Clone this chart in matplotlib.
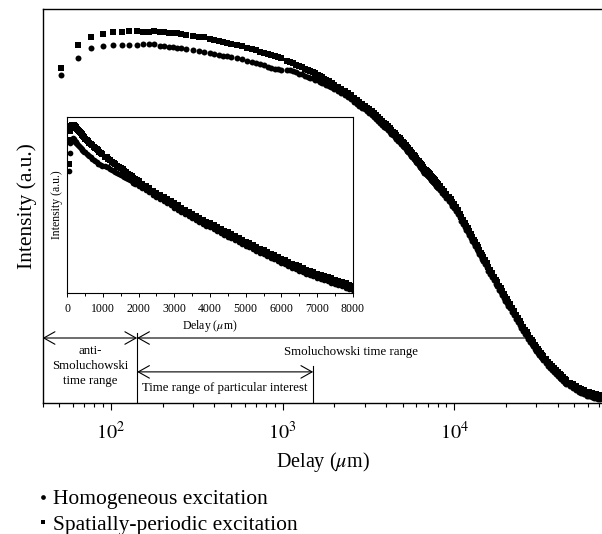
import matplotlib.pyplot as plt
from matplotlib.lines import Line2D
from matplotlib.ticker import MultipleLocator

plt.rcParams['font.family'] = 'serif'
plt.rcParams['font.serif'] = ['Liberation Serif', 'DejaVu Serif']
plt.rcParams['mathtext.fontset'] = 'stix'

# delay values shared by both excitation series
delay = [
    51.2, 64.0, 76.8, 89.6, 102.4, 115.2, 128.0, 140.8, 153.6, 166.4, 179.2, 192.0, 204.8, 217.6, 230.4, 243.2, 256.0,
    275, 300, 325, 350, 375, 400, 425, 450, 475, 500, 540, 580, 620, 660, 700, 740, 780, 820, 860, 900, 940, 980,
    1060, 1100, 1150, 1200, 1250, 1300, 1350, 1400, 1450, 1500, 1550, 1600, 1650, 1700, 1750, 1800, 1850, 1900, 1950, 2000,
    2100, 2200, 2300, 2400, 2500, 2600, 2700, 2800, 2900, 3000, 3100, 3200, 3300, 3400, 3500, 3600, 3700, 3800, 3900, 4000,
    4100, 4200, 4300, 4400, 4500, 4600, 4700, 4800, 4900, 5000, 5100, 5200, 5300, 5400, 5500, 5600, 5700, 5800, 5900, 6000,
    6100, 6200, 6300, 6400, 6500, 6600, 6700, 6800, 6900, 7000, 7100, 7200, 7300, 7400, 7500, 7600, 7700, 7800, 7900, 8000,
    8250, 8500, 8750, 9000, 9250, 9500, 9750, 10000,
    10250, 10500, 10750, 11000, 11250, 11500, 11750, 12000, 12250, 12500, 12750, 13000, 13250, 13500, 13750, 14000,
    14250, 14500, 14750, 15000,
    15400, 15800, 16200, 16600, 17000, 17400, 17800, 18200, 18600, 19000, 19400, 19800, 20200, 20600, 21000,
    21600, 22200, 22800, 23400, 24000, 24600, 25200, 25800, 26400, 27000, 27600, 28200, 28800, 29400, 30000,
    30600, 31200, 31800, 32400, 33000,
    34000, 35000, 36000, 37000, 38000, 39000, 40000, 41000, 42000, 43000, 44000, 45000,
    47000, 49000, 51000, 53000, 55000, 57000, 59000, 61000, 63000, 65000, 67000, 69000, 71000, 73000,
]

# spatially-periodic excitation (squares)
periodic = [
    .851, .909, .930, .937, .941, .942, .945, .944, .941, .942, .943, .942, .941, .940, .939, .938, .937,
    .935, .932, .930, .928, .925, .922, .920, .917, .914, .911, .908, .905, .901, .898, .895, .892, .889, .886, .883, .880, .877, .875,
    .868, .866, .862, .859, .856, .852, .849, .846, .842, .840, .837, .833, .830, .827, .823, .820, .817, .813, .811, .808,
    .803, .797, .792, .786, .781, .775, .770, .765, .760, .755, .750, .745, .740, .735, .730, .725, .720, .716, .711, .707,
    .703, .698, .694, .689, .685, .681, .676, .672, .668, .663, .659, .655, .650, .646, .642, .638, .634, .630, .626, .622,
    .618, .614, .610, .606, .603, .599, .595, .592, .589, .586, .583, .580, .577, .574, .571, .568, .565, .562, .559, .556,
    .550, .543, .537, .531, .524, .518, .511, .505,
    .497, .489, .481, .473, .465, .458, .450, .443, .436, .429, .422, .415, .408, .401, .395, .388,
    .382, .376, .370, .364,
    .355, .346, .338, .329, .321, .313, .306, .298, .291, .284, .277, .270, .264, .257, .251,
    .242, .233, .224, .216, .208, .200, .193, .186, .179, .172, .166, .160, .154, .148, .143,
    .138, .133, .128, .123, .119,
    .112, .105, .099, .093, .088, .083, .078, .074, .070, .066, .062, .058,
    .052, .047, .042, .038, .035, .032, .029, .027, .025, .023, .022, .021, .020, .019,
]

# homogeneous excitation (circles)
homogeneous = [
    .832, .876, .900, .907, .909, .909, .909, .909, .910, .912, .911, .906, .905, .904, .903, .902, .901,
    .898, .895, .893, .891, .888, .886, .884, .882, .880, .878, .875, .872, .869, .866, .863, .860, .857, .854, .851, .849, .847, .845,
    .846, .844, .842, .839, .836, .834, .831, .828, .826, .824, .821, .819, .816, .813, .811, .808, .805, .803, .801, .798,
    .793, .787, .782, .776, .771, .765, .760, .755, .750, .745, .740, .735, .730, .725, .720, .715, .710, .706, .701, .697,
    .693, .688, .684, .679, .675, .671, .666, .662, .658, .653, .649, .645, .640, .636, .632, .628, .624, .620, .616, .612,
    .608, .604, .600, .596, .593, .589, .585, .582, .579, .576, .573, .570, .567, .564, .561, .558, .555, .552, .549, .546,
    .540, .533, .527, .521, .514, .508, .501, .495,
    .487, .479, .471, .463, .455, .448, .440, .433, .426, .419, .412, .405, .398, .391, .385, .378,
    .372, .366, .360, .354,
    .345, .336, .328, .319, .311, .303, .296, .288, .281, .274, .267, .260, .254, .247, .241,
    .232, .223, .214, .206, .198, .190, .183, .176, .169, .162, .156, .150, .144, .138, .133,
    .128, .123, .118, .113, .109,
    .102, .095, .089, .083, .078, .073, .068, .064, .060, .056, .052, .048,
    .042, .037, .032, .028, .025, .022, .019, .017, .015, .013, .012, .011, .010, .009,
]

# range boundaries (delay)
x_left = 40
x_smol = 142
x_interest = 1506
x_smol_end = 26980

series_labels = ['Homogeneous excitation', 'Spatially-periodic excitation']

fig = plt.figure(figsize=(6.02, 5.34), dpi=100)

# main log-scale panel
ax = fig.add_axes([0.0709, 0.2453, 0.9300, 0.7378])
ax.plot(delay, periodic, 's', ms=4.0, mew=0, color='black')
ax.plot(delay, homogeneous, 'o', ms=4.3, mew=0, color='black')
ax.set_xscale('log')
ax.set_xlim(x_left, 73000)
ax.set_ylim(0, 1)
ax.set_yticks([])
ax.set_xticks([100, 1000, 10000])
ax.set_xticklabels([r'$10^2$', r'$10^3$', r'$10^4$'])
ax.tick_params(axis='x', which='major', direction='out', length=5, width=0.8, pad=9, labelsize=14.5)
ax.tick_params(axis='x', which='minor', direction='out', length=3, width=0.8)
ax.spines['right'].set_visible(False)
for s in ax.spines.values():
    s.set_linewidth(1.0)
ax.set_xlabel(r'Delay ($\mu$m)', fontsize=14.5, labelpad=4)
ax.set_ylabel('Intensity (a.u.)', fontsize=15.5)
ax.yaxis.set_label_coords(-0.011, 0.5)

# time-range markers along the bottom
trans = ax.get_xaxis_transform()
y_top = 0.165
y_low = 0.079
ax.plot([x_smol, x_smol], [0, 0.178], transform=trans, color='black', lw=0.8)
ax.plot([x_interest, x_interest], [0, 0.094], transform=trans, color='black', lw=0.8)

both = dict(arrowstyle='<->,head_length=0.8,head_width=0.45', lw=0.8, color='black',
            shrinkA=0, shrinkB=0, mutation_scale=10)
one = dict(arrowstyle='<-,head_length=0.8,head_width=0.45', lw=0.8, color='black',
           shrinkA=0, shrinkB=0, mutation_scale=10)
crd = ('data', 'axes fraction')
ax.annotate('', xy=(x_smol, y_top), xytext=(x_left, y_top), xycoords=crd, textcoords=crd, arrowprops=both)
ax.annotate('', xy=(x_smol_end, y_top), xytext=(x_smol, y_top), xycoords=crd, textcoords=crd, arrowprops=one)
ax.annotate('', xy=(x_interest, y_low), xytext=(x_smol, y_low), xycoords=crd, textcoords=crd, arrowprops=both)

ax.text(75.4, 0.094, 'anti-\nSmoluchowski\ntime range', transform=trans, ha='center', va='center',
        fontsize=9.3, linespacing=1.3)
ax.text(2506, 0.129, 'Smoluchowski time range', transform=trans, ha='center', va='center', fontsize=9.3)
ax.text(462, 0.038, 'Time range of particular interest', transform=trans, ha='center', va='center', fontsize=9.3)

# linear-scale inset of the first 8000
axin = fig.add_axes([0.1118, 0.4513, 0.4741, 0.3301])
axin.plot(delay, periodic, 's', ms=3.8, mew=0, color='black')
axin.plot(delay, homogeneous, 'o', ms=4.1, mew=0, color='black')
axin.set_xlim(0, 8000)
axin.set_ylim(0.539, 0.964)
axin.set_yticks([])
axin.set_xticks([0, 1000, 2000, 3000, 4000, 5000, 6000, 7000, 8000])
axin.xaxis.set_minor_locator(MultipleLocator(500))
axin.tick_params(axis='x', which='major', direction='out', length=3, width=0.7, pad=4, labelsize=8.5)
axin.tick_params(axis='x', which='minor', direction='out', length=2, width=0.7)
for s in axin.spines.values():
    s.set_linewidth(0.8)
axin.set_xlabel(r'Delay ($\mu$m)', fontsize=8.5, labelpad=2)
axin.set_ylabel('Intensity (a.u.)', fontsize=8.5, labelpad=3)

handles = [Line2D([], [], marker='o', ls='none', color='black', ms=3.4, mew=0),
           Line2D([], [], marker='s', ls='none', color='black', ms=3.0, mew=0)]
fig.legend(handles, series_labels, loc='upper left', bbox_to_anchor=(39 / 602, 1 - 489 / 534),
           frameon=False, fontsize=15.5, handlelength=0.4, handletextpad=0.25,
           borderpad=0, borderaxespad=0, labelspacing=0.25)

fig.savefig('out.png', dpi=100)
